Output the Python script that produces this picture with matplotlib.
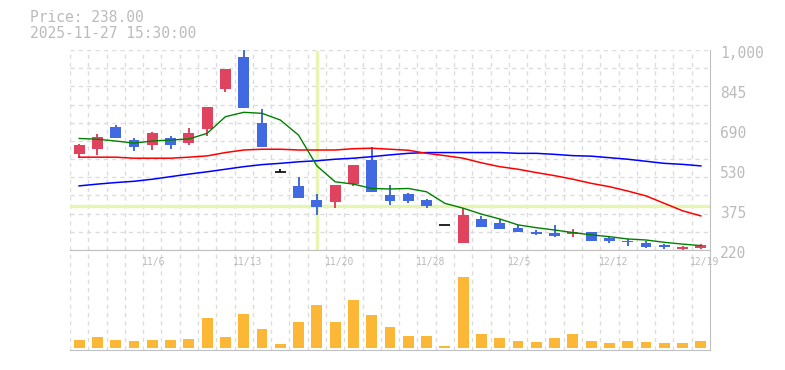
import matplotlib
matplotlib.use("Agg")
import matplotlib.pyplot as plt
import matplotlib.transforms as mtransforms
import numpy as np

# trading days shown on the chart
dates = ["10/30", "10/31", "11/4", "11/5", "11/6", "11/7", "11/10", "11/11", "11/12",
         "11/13", "11/14", "11/17", "11/18", "11/19", "11/20", "11/21", "11/25",
         "11/26", "11/27", "11/28", "12/1", "12/2", "12/3", "12/4", "12/5", "12/8",
         "12/9", "12/10", "12/11", "12/12", "12/15", "12/16", "12/17", "12/18", "12/19"]
label_dates = ["11/6", "11/13", "11/20", "11/28", "12/5", "12/12", "12/19"]

opens = [596, 615, 700, 649, 631, 657, 639, 693, 848, 973, 717, 523, 470, 415, 407,
         477, 571, 434, 438, 415, 318, 249, 341, 325, 306, 290, 286, 282, 290, 267,
         255, 247, 240, 224, 228]
highs = [633, 672, 707, 657, 680, 665, 696, 778, 926, 1010, 770, 535, 505, 438, 473,
         551, 622, 473, 442, 419, 318, 384, 353, 341, 318, 298, 318, 302, 290, 275,
         263, 255, 243, 236, 243]
lows = [578, 590, 658, 607, 610, 615, 631, 666, 836, 775, 623, 523, 424, 356, 384,
        470, 446, 395, 403, 385, 318, 249, 311, 303, 291, 278, 272, 272, 256, 249,
        236, 228, 224, 220, 224]
closes = [629, 661, 658, 623, 676, 631, 676, 778, 926, 775, 623, 523, 424, 389, 473,
          551, 446, 411, 411, 392, 318, 356, 311, 303, 291, 282, 276, 290, 256, 256,
          251, 233, 232, 232, 238]

ma_short = [655, 652, 645, 637, 645, 649, 653, 675, 740, 757, 753, 727, 668, 548, 486,
            477, 460, 458, 460, 447, 402, 383, 360, 341, 318, 307, 298, 288, 279, 272,
            263, 259, 250, 243, 237]
ma_mid = [582, 582, 582, 578, 578, 578, 582, 587, 600, 610, 613, 613, 610, 610, 610,
          615, 617, 613, 609, 597, 588, 578, 560, 545, 535, 522, 510, 496, 480, 467,
          450, 431, 402, 373, 353]
ma_long = [470, 477, 483, 488, 496, 506, 516, 525, 535, 545, 553, 558, 564, 568, 574,
           578, 584, 591, 597, 600, 600, 600, 600, 600, 597, 597, 593, 588, 586, 580,
           574, 566, 558, 554, 548]

volumes = [8, 11, 8, 7, 8, 8, 9, 30, 11, 34, 19, 4, 26, 43, 26, 48, 33, 21, 12, 12,
           2, 71, 14, 10, 7, 6, 10, 14, 7, 5, 7, 6, 5, 5, 7]

price_ticks = ["1,000", "845", "690", "530", "375", "220"]
cross_index = 13
cross_price = 392

UP = "#e0435e"
DOWN = "#4169e1"
GRID = "#dcdcdc"
EDGE = "#c0c0c0"
TEXT = "#bbbbbb"
MONO = "DejaVu Sans Mono"

fig = plt.figure(figsize=(7.85, 3.70), dpi=100)
W, H = 785, 370
ax = fig.add_axes([70 / W, (H - 250) / H, 640 / W, 200 / H])
axv = fig.add_axes([70 / W, (H - 350) / H, 640 / W, 100 / H])

x = np.arange(len(dates))
ymin, ymax = 220, 1000

for a in (ax, axv):
    a.set_xlim(-0.5, len(dates) - 0.5)
    for s in a.spines.values():
        s.set_visible(False)
    a.tick_params(left=False, bottom=False, labelleft=False, labelbottom=False)
    for gx in np.arange(-0.5, len(dates) - 1, 1.0):
        a.axvline(gx, color=GRID, lw=1.0, ls=(0, (3, 3)), zorder=0)
    a.spines["right"].set_visible(True)
    a.spines["right"].set_color(EDGE)
    a.spines["bottom"].set_visible(True)
    a.spines["bottom"].set_color(EDGE)

ax.set_ylim(ymin, ymax)
for gy in np.linspace(ymin, ymax, 12)[1:]:
    ax.axhline(gy, color=GRID, lw=1.0, ls=(0, (3, 3)), zorder=0)
axv.spines["top"].set_visible(True)
axv.spines["top"].set_color(EDGE)

# crosshair
ax.axvline(cross_index, ymin=0.01, ymax=0.99, color="#e6f5b0", lw=2.4, zorder=1)
ax.axhline(cross_price, color="#e6f5b0", lw=2.4, zorder=1)

# candles
bw = 0.6
for i in x:
    o, h, l, c = opens[i], highs[i], lows[i], closes[i]
    if c == o:
        ax.vlines(i, l, h, color="black", lw=1.2, zorder=3)
        ax.hlines(c, i - bw / 2, i + bw / 2, color="black", lw=1.2, zorder=3)
        continue
    col = UP if c > o else DOWN
    ax.vlines(i, l, h, color=col, lw=1.4, zorder=3)
    lo, hi = min(o, c), max(o, c)
    ax.bar(i, max(hi - lo, 4), bottom=lo, width=bw, color=col, zorder=3)

ax.plot(x, ma_long, color="#0000ff", lw=1.1, zorder=4)
ax.plot(x, ma_mid, color="#ff0000", lw=1.1, zorder=4)
ax.plot(x, ma_short, color="#008000", lw=1.0, zorder=4)

# price labels on the right
off = mtransforms.offset_copy(ax.get_yaxis_transform(), fig=fig, x=10, y=-3, units="dots")
for val, lab in zip(np.linspace(ymax, ymin, len(price_ticks)), price_ticks):
    ax.text(1.0, val, lab, transform=off, ha="left", va="center", fontsize=10.5,
            color=TEXT, family=MONO, clip_on=False)

# volume
axv.bar(x, volumes, width=bw, color="#fbb735", zorder=3)
axv.set_ylim(-max(volumes) * 2 / 71, max(volumes) * 98 / 71)

for d in label_dates:
    i = dates.index(d)
    axv.text(i - 0.58, 0.88, d, transform=axv.get_xaxis_transform(), ha="left",
             va="center", fontsize=7, color=TEXT, family=MONO, clip_on=False)

fig.text(30 / W, 1 - 18 / H, "Price: 238.00", fontsize=10.5, color=TEXT, family=MONO,
         va="center", ha="left")
fig.text(30 / W, 1 - 33 / H, "2025-11-27 15:30:00", fontsize=10.5, color=TEXT,
         family=MONO, va="center", ha="left")

fig.savefig("out.png", dpi=100)
